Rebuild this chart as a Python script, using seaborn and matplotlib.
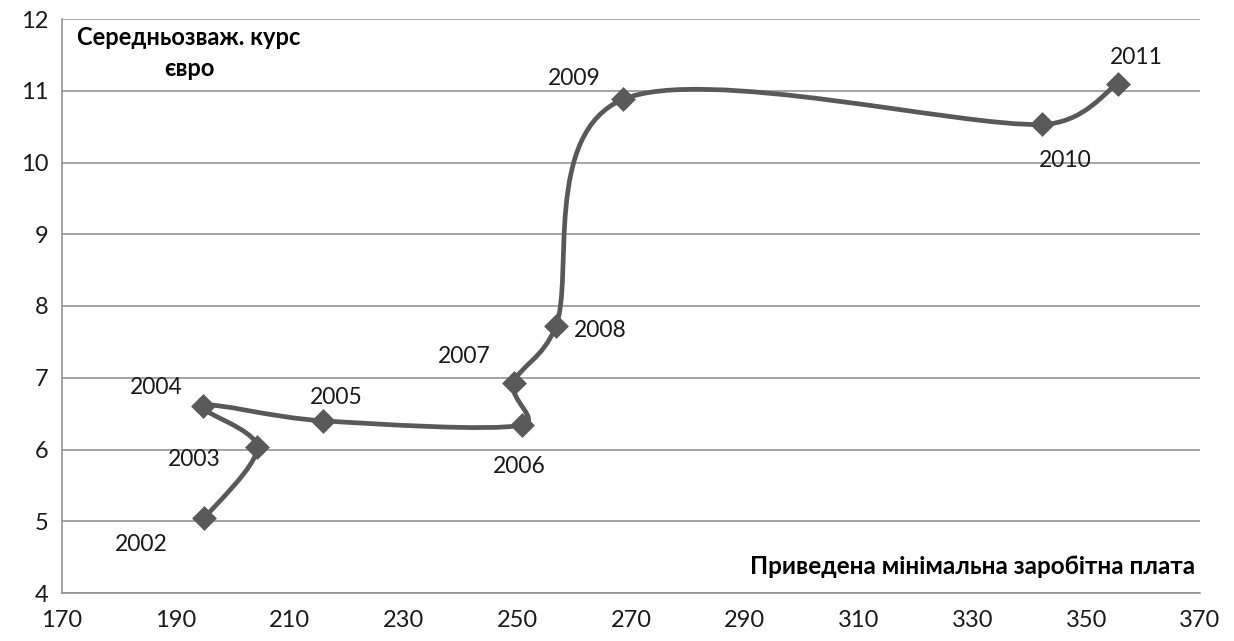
import numpy as np
import matplotlib
matplotlib.use("Agg")
import matplotlib.pyplot as plt
from matplotlib.path import Path
from matplotlib.patches import PathPatch
import seaborn as sns

# values
years = ["2002", "2003", "2004", "2005", "2006", "2007", "2008", "2009", "2010", "2011"]
min_wage = [195.0, 204.3, 194.8, 215.8, 250.8, 249.4, 256.8, 268.6, 342.2, 355.6]
euro_rate = [5.04, 6.03, 6.61, 6.40, 6.34, 6.93, 7.72, 10.88, 10.53, 11.10]
x_ticks = list(range(170, 371, 20))
y_ticks = list(range(4, 13))

# where each year label sits relative to its marker (pixels)
label_offsets = [(-63, -26), (-63, -12), (-47, 18), (14, 23), (-2, -41),
                 (-50, 26), (44, -4), (-49, 21), (23, -36), (18, 26)]

line_color = "#595959"
grid_color = "#8c8c8c"
text_color = "#1a1a1a"

sns.set_theme(style="white")
plt.rcParams["font.family"] = ["Lato", "DejaVu Sans"]

fig = plt.figure(figsize=(12.34, 6.41), dpi=100)
ax = fig.add_axes([62 / 1234, 48 / 641, 1138 / 1234, 574 / 641])
ax.set_xlim(170, 370)
ax.set_ylim(4, 12)


def smooth_path(ax, xs, ys):
    # Excel-style smoothed line: bezier segments, tangents clamped to half the segment
    pts = ax.transData.transform(np.column_stack([xs, ys]))
    n = len(pts)
    verts = [pts[0]]
    codes = [Path.MOVETO]
    for i in range(n - 1):
        p0 = pts[max(i - 1, 0)]
        p1 = pts[i]
        p2 = pts[i + 1]
        p3 = pts[min(i + 2, n - 1)]
        half = np.linalg.norm(p2 - p1) / 2
        t1 = (p2 - p0) / 6
        t2 = (p3 - p1) / 6
        if np.linalg.norm(t1) > half:
            t1 = t1 / np.linalg.norm(t1) * half
        if np.linalg.norm(t2) > half:
            t2 = t2 / np.linalg.norm(t2) * half
        verts += [p1 + t1, p2 - t2, p2]
        codes += [Path.CURVE4] * 3
    verts = ax.transData.inverted().transform(np.array(verts))
    return Path(verts, codes)


# grid and axes
ax.set_xticks(x_ticks)
ax.set_yticks(y_ticks)
ax.grid(axis="y", color=grid_color, linewidth=1.1)
ax.grid(axis="x", visible=False)
for side in ["top", "right"]:
    ax.spines[side].set_visible(False)
for side in ["left", "bottom"]:
    ax.spines[side].set_color(grid_color)
    ax.spines[side].set_linewidth(1.1)
ax.tick_params(axis="both", direction="out", color=grid_color, width=1.1,
               labelsize=17, labelcolor=text_color)
ax.tick_params(axis="x", length=7, pad=5)
ax.tick_params(axis="y", length=6, pad=4)
ax.set_xlabel("")
ax.set_ylabel("")

# smoothed line
patch = PathPatch(smooth_path(ax, min_wage, euro_rate), facecolor="none",
                  edgecolor=line_color, linewidth=3.4, capstyle="round",
                  joinstyle="round", zorder=3)
ax.add_patch(patch)

# markers
sns.scatterplot(x=min_wage, y=euro_rate, marker="D", s=160, color=line_color,
                edgecolor=line_color, linewidth=0, zorder=4, ax=ax, legend=False)

# year labels
for yr, xv, yv, off in zip(years, min_wage, euro_rate, label_offsets):
    ax.annotate(yr, (xv, yv), xytext=off, textcoords="offset pixels",
                ha="center", va="center", fontsize=16.5, color=text_color, zorder=5)

# axis titles inside the plot
ax.text(0.1116, 0.988, "Середньозваж. курс\nєвро", transform=ax.transAxes,
        ha="center", va="top", multialignment="center", fontsize=17,
        fontweight="bold", color="black", linespacing=1.45)
ax.text(0.9956, 0.0453, "Приведена мінімальна заробітна плата", transform=ax.transAxes,
        ha="right", va="center", fontsize=17.5, fontweight="bold", color="black")

fig.savefig("out.png", dpi=100)
